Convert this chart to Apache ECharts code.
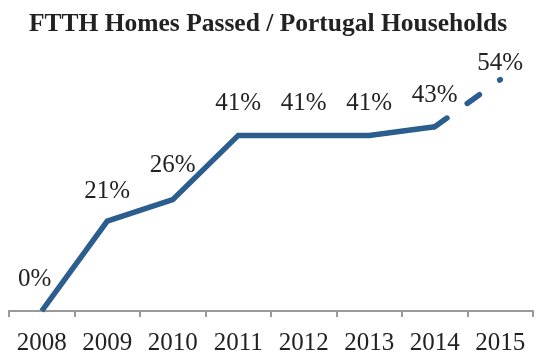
<!DOCTYPE html>
<html>
<head>
<meta charset="utf-8">
<script src="https://cdn.jsdelivr.net/npm/echarts@6/dist/echarts.min.js"></script>
<style>
  html, body { margin: 0; padding: 0; background: #fff; }
  #chart { width: 536px; height: 356px; }
</style>
</head>
<body>
<div id="chart"></div>
<script>
// Share of Portuguese households passed by FTTH, by year
const years = ['2008', '2009', '2010', '2011', '2012', '2013', '2014', '2015'];
const actualPct = [0, 21, 26, 41, 41, 41, 43, null];
const forecastPct = [null, null, null, null, null, null, 43, 54];

// per-point label nudges [dx, dy]
const labelNudge = [[-7, 0], [0, 2], [0, -3], [0, 0], [0, 0], [0, 0], [0, 0]];

const FONT = '"Liberation Serif", "Times New Roman", serif';
const BLUE = '#2c5d8f';

const chart = echarts.init(document.getElementById('chart'), null, { renderer: 'canvas' });

chart.setOption({
  animation: false,
  title: {
    text: 'FTTH Homes Passed / Portugal Households',
    left: 'center',
    top: 6,
    textStyle: { fontFamily: FONT, fontWeight: 'bold', fontSize: 25.5, color: '#222' }
  },
  grid: { left: 9, right: 3, top: 54, bottom: 44, containLabel: false },
  xAxis: {
    type: 'category',
    data: years,
    boundaryGap: true,
    axisLine: { lineStyle: { color: '#999', width: 2 } },
    axisTick: { show: true, length: 6, lineStyle: { color: '#999', width: 2 } },
    axisLabel: { fontFamily: FONT, fontSize: 25, color: '#222', margin: 20 }
  },
  yAxis: {
    type: 'value',
    min: 0,
    max: 60,
    show: false,
    splitLine: { show: false }
  },
  series: [
    {
      type: 'line',
      data: actualPct.map((v, i) => ({
        value: v,
        label: v == null ? undefined : { offset: labelNudge[i] }
      })),
      showSymbol: true,
      symbol: 'circle',
      symbolSize: 2,
      itemStyle: { color: 'rgba(0,0,0,0)', borderWidth: 0 },
      lineStyle: { color: BLUE, width: 5.5, cap: 'butt', join: 'miter' },
      label: {
        show: true,
        position: 'top',
        distance: 18,
        fontFamily: FONT,
        fontSize: 25,
        color: '#222',
        formatter: p => p.value + '%'
      },
      z: 3
    },
    {
      type: 'line',
      data: forecastPct.map((v, i) => ({
        value: v,
        label: { show: i === forecastPct.length - 1 }
      })),
      showSymbol: true,
      symbol: 'circle',
      symbolSize: 2,
      itemStyle: { color: 'rgba(0,0,0,0)', borderWidth: 0 },
      lineStyle: { color: BLUE, width: 5.5, type: [15, 25], cap: 'round' },
      label: {
        position: 'top',
        distance: 3,
        fontFamily: FONT,
        fontSize: 25,
        color: '#222',
        formatter: p => p.value + '%'
      },
      z: 2
    }
  ]
});
</script>
</body>
</html>
